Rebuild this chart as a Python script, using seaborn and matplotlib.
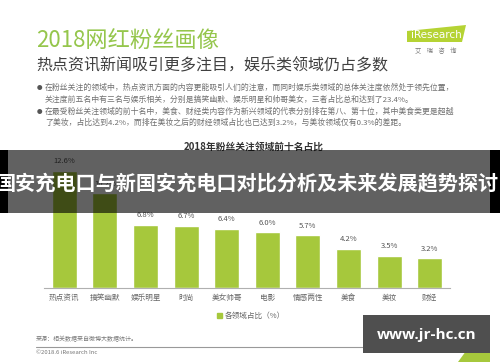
import matplotlib
matplotlib.use("Agg")
import pandas as pd
import matplotlib.pyplot as plt
import seaborn as sns
from matplotlib.patches import Rectangle, Polygon, Patch

# Data
categories = ['热点资讯', '搞笑幽默', '娱乐明星', '时尚', '美女帅哥',
              '电影', '情感两性', '美食', '美妆', '财经']
shares = [12.6, 10.2, 6.8, 6.7, 6.4, 6.0, 5.7, 4.2, 3.5, 3.2]

title = '2018网红粉丝画像'
subtitle = '热点资讯新闻吸引更多注目，娱乐类领域仍占多数'
bullet_lines = [
    '在粉丝关注的领域中，热点资讯方面的内容更能吸引人们的注意，而同时娱乐类领域的总体关注度依然处于领先位置，',
    '关注度前五名中有三名与娱乐相关，分别是搞笑幽默、娱乐明星和帅哥美女，三者占比总和达到了23.4%。',
    '在最受粉丝关注领域的前十名中，美食、财经类内容作为新兴领域的代表分别排在第八、第十位，其中美食类更是超越',
    '了美妆，占比达到4.2%，而排在美妆之后的财经领域占比也已达到3.2%，与美妆领域仅有0.3%的差距。',
]
chart_title = '2018年粉丝关注领域前十名占比'
legend_label = '各领域占比（%）'
source = '来源：相关数据来自微博大数据统计。'
copyright_text = '©2018.6 iResearch Inc'
banner = '国安充电口与新国安充电口对比分析及未来发展趋势探讨'
watermark = 'www.jr-hc.cn'

df = pd.DataFrame({'领域': categories, '占比': shares})

sns.set_theme(style='white')
plt.rcParams['font.family'] = ['Noto Sans CJK SC', 'DejaVu Sans']

W, H = 500, 362
fig = plt.figure(figsize=(W / 100, H / 100), dpi=100)
fig.patch.set_facecolor('white')


def fx(x):
    return x / W


def fy(y):
    return 1 - y / H


green = '#a6c83c'

# bar chart
ax = fig.add_axes([fx(44), fy(288), 406 / W, 130 / H])
sns.barplot(data=df, x='领域', y='占比', color=green, width=0.62,
            saturation=1, ax=ax)
ax.set_xlim(-0.5, 9.5)
ax.set_ylim(0, 14)
ax.set_yticks([])
ax.set_xlabel('')
ax.set_ylabel('')
ax.tick_params(axis='x', length=0, pad=4, labelsize=5.5, labelcolor='#666666')
sns.despine(ax=ax, left=True)
ax.spines['bottom'].set_color('#b0b0b0')
ax.spines['bottom'].set_linewidth(0.8)
for i, v in enumerate(shares):
    ax.annotate(f'{v}%', (i, v), xytext=(0, 4), textcoords='offset points',
                ha='center', va='bottom', fontsize=5.5, color='#555555')

fig.legend(handles=[Patch(color=green)], labels=[legend_label],
           loc='center', bbox_to_anchor=(fx(251), fy(316)), frameon=False,
           fontsize=5.5, handlelength=0.6, handleheight=0.6, handletextpad=0.3,
           labelcolor='#666666')

# header texts
fig.text(fx(36), fy(40), title, fontsize=16, color='#95c64c', va='center')
fig.text(fx(36), fy(66), subtitle, fontsize=11.5, color='#404040', va='center')
for k, (line, yy) in enumerate(zip(bullet_lines, [88, 100, 112, 123])):
    if k in (0, 2):
        fig.text(fx(37), fy(yy), '●', fontsize=4, color='#555555', va='center')
    fig.text(fx(45), fy(yy), line, fontsize=5.65, color='#707070', va='center')
fig.text(fx(254), fy(147), chart_title, fontsize=7, fontweight='bold',
         color='#333333', ha='center', va='center')

# iResearch logo
fig.add_artist(Polygon([(fx(407), fy(42)), (fx(407), fy(31)), (fx(466), fy(25)),
                        (fx(462), fy(42))], closed=True, transform=fig.transFigure,
                       facecolor='#b5d334', edgecolor='none'))
fig.text(fx(436), fy(35), 'iResearch', fontsize=7.5, color='white',
         ha='center', va='center', family='DejaVu Sans')
fig.text(fx(436), fy(51), '艾    瑞    咨    询', fontsize=4.5, color='#777777',
         ha='center', va='center')

# footer
fig.text(fx(36), fy(339), source, fontsize=4.3, color='#777777', va='center')
fig.add_artist(plt.Line2D([fx(36), fx(460)], [fy(347), fy(347)],
                          transform=fig.transFigure, color='#999999', lw=0.8))
fig.text(fx(36), fy(353), copyright_text, fontsize=4.3, color='#777777', va='center')
fig.add_artist(Polygon([(fx(458), fy(362)), (fx(490), fy(362)), (fx(490), fy(318))],
                       closed=True, transform=fig.transFigure,
                       facecolor='#a6c83c', edgecolor='none', zorder=4))
fig.add_artist(Rectangle((fx(490), 0), 10 / W, 1 - fy(300) + fy(362),
                         transform=fig.transFigure, facecolor='white',
                         edgecolor='none', zorder=4))

# overlay banner
fig.add_artist(Rectangle((fx(8), fy(213)), 482 / W, 63 / H,
                         transform=fig.transFigure, facecolor='black',
                         alpha=0.62, edgecolor='none', zorder=5))
fig.add_artist(Rectangle((0, fy(213)), 8 / W, 63 / H,
                         transform=fig.transFigure, facecolor='black',
                         edgecolor='none', zorder=5))
fig.add_artist(Rectangle((fx(490), fy(213)), 10 / W, 63 / H,
                         transform=fig.transFigure, facecolor='black',
                         edgecolor='none', zorder=5))
fig.text(fx(247), fy(184), banner, fontsize=14.5, fontweight='bold',
         color='white', ha='center', va='center', zorder=6)

# watermark box
fig.add_artist(Rectangle((fx(363), fy(353)), 127 / W, 38 / H,
                         transform=fig.transFigure, facecolor='#4f4f4f',
                         edgecolor='none', zorder=5))
fig.text(fx(427), fy(335), watermark, fontsize=11, fontweight='bold',
         color='white', ha='center', va='center', family='Open Sans', zorder=6)

fig.savefig('out.png', dpi=100)
